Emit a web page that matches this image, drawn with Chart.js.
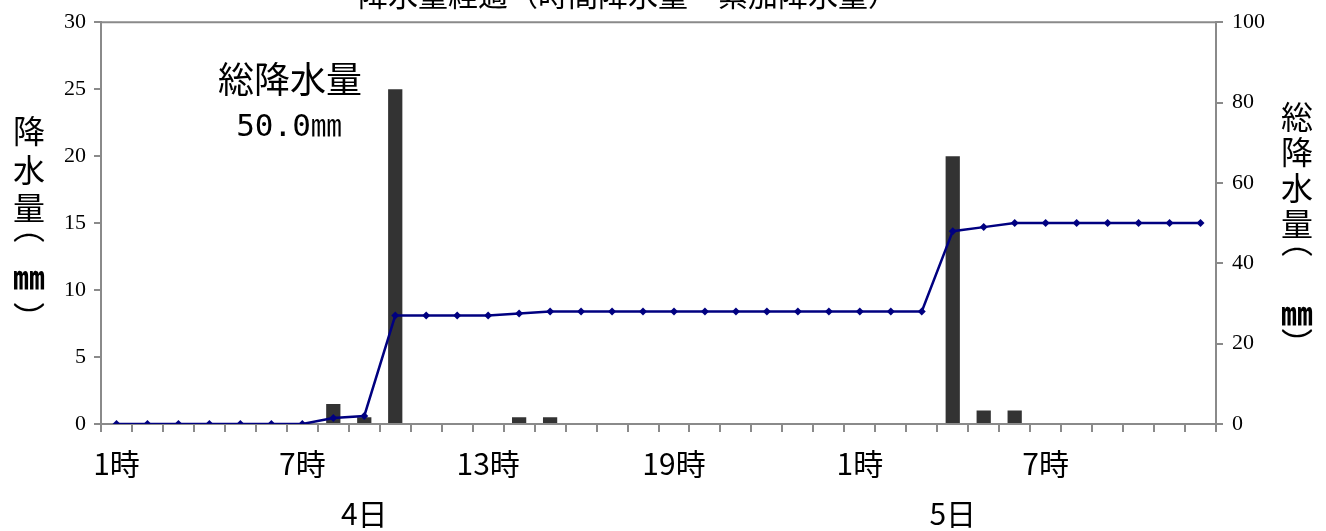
<!DOCTYPE html>
<html>
<head>
<meta charset="utf-8">
<script src="https://cdn.jsdelivr.net/npm/chart.js@4.4.1/dist/chart.umd.min.js"></script>
<style>
  html, body { margin: 0; padding: 0; background: #ffffff; }
  #wrap { position: relative; width: 1326px; height: 531px; overflow: hidden; }
  canvas { display: block; }
</style>
</head>
<body>
<div id="wrap"><canvas id="c" width="1326" height="531"></canvas></div>
<script>
// ---- data ----
const categories = [
  '1時','2時','3時','4時','5時','6時','7時','8時','9時','10時','11時','12時',
  '13時','14時','15時','16時','17時','18時','19時','20時','21時','22時','23時','24時',
  '1時','2時','3時','4時','5時','6時','7時','8時','9時','10時','11時','12時'
];
const hourlyRain = [
  0,0,0,0,0,0,0,1.5,0.5,25,0,0,
  0,0.5,0.5,0,0,0,0,0,0,0,0,0,
  0,0,0,20,1,1,0,0,0,0,0,0
];
const totalRain = [
  0,0,0,0,0,0,0,1.5,2,27,27,27,
  27,27.5,28,28,28,28,28,28,28,28,28,28,
  28,28,28,48,49,50,50,50,50,50,50,50
];
const labelledHourIdx = [0, 6, 12, 18, 24, 30];
const dayLabels = ['4日', '5日'];
const dayLabelIdx = [8, 27];
const leftTitle = ['降','水','量','︵','㎜','︶'];
const rightTitle = ['総','降','水','量','︵','㎜','︶'];
const chartTitle = '降水量経過（時間降水量・累加降水量）';
const noteLines = ['総降水量', '50.0㎜'];

const AXIS = '#8a8a8a';
const CJK = '"Noto Sans CJK JP", "Noto Sans", sans-serif';
const SERIF = '"Liberation Serif", "DejaVu Serif", serif';

function drawVertical(ctx, chars, x, ys) {
  chars.forEach((ch, i) => {
    if (ch === '㎜') ctx.font = 'bold 32px ' + CJK;
    else ctx.font = '32px ' + CJK;
    ctx.fillText(ch, x, ys[i]);
  });
}

const textPlugin = {
  id: 'texts',
  afterDraw(chart) {
    const ctx = chart.ctx;
    const ca = chart.chartArea;
    ctx.save();
    // top border of plot
    ctx.strokeStyle = AXIS;
    ctx.lineWidth = 2;
    ctx.beginPath();
    ctx.moveTo(ca.left - 1, ca.top);
    ctx.lineTo(ca.right + 1, ca.top);
    ctx.stroke();

    ctx.fillStyle = '#000';
    ctx.textAlign = 'center';
    // clipped title
    ctx.font = '30px ' + CJK;
    ctx.textBaseline = 'bottom';
    ctx.fillText(chartTitle, 628, 10);

    // note
    ctx.textBaseline = 'middle';
    ctx.font = '36px ' + CJK;
    ctx.fillText(noteLines[0], 290, 79);
    ctx.font = '31px "DejaVu Sans Mono", ' + CJK;
    ctx.fillText(noteLines[1], 289, 128);

    // vertical axis titles
    drawVertical(ctx, leftTitle, 29, [131, 170, 208, 227, 277, 318]);
    drawVertical(ctx, rightTitle, 1297, [117, 152, 188, 224, 241, 313, 344]);
    ctx.restore();
  }
};

function build() {
  const ctx = document.getElementById('c').getContext('2d');
  new Chart(ctx, {
    data: {
      labels: categories,
      datasets: [
        {
          type: 'line',
          label: '総降水量',
          data: totalRain,
          yAxisID: 'y1',
          borderColor: '#000080',
          backgroundColor: '#000080',
          borderWidth: 2.5,
          pointStyle: 'rectRot',
          pointRadius: 4,
          pointBorderWidth: 0,
          pointBackgroundColor: '#000080',
          tension: 0,
          order: 0
        },
        {
          type: 'bar',
          label: '降水量',
          data: hourlyRain,
          yAxisID: 'y',
          backgroundColor: '#333333',
          borderWidth: 0,
          barPercentage: 0.46,
          categoryPercentage: 1.0,
          order: 1
        }
      ]
    },
    options: {
      responsive: false,
      animation: false,
      devicePixelRatio: 1,
      layout: { padding: { top: 20, left: 0, right: 0, bottom: 0 } },
      plugins: {
        legend: { display: false },
        tooltip: { enabled: false },
        title: { display: false }
      },
      scales: {
        x: {
          type: 'category',
          offset: true,
          grid: {
            offset: true,
            drawOnChartArea: false,
            drawTicks: true,
            tickLength: 8,
            color: AXIS,
            lineWidth: 2
          },
          border: { display: true, color: AXIS, width: 2 },
          ticks: {
            autoSkip: false,
            maxRotation: 0,
            minRotation: 0,
            padding: 7,
            color: '#000',
            font: { family: CJK, size: 30, lineHeight: 1.66 },
            callback: function (v, i) {
              const h = labelledHourIdx.indexOf(i) >= 0 ? categories[i] : '';
              const d = dayLabelIdx.indexOf(i);
              const dl = d >= 0 ? dayLabels[d] : '';
              if (!h && !dl) return '';
              return [h, dl];
            }
          },
          afterFit: function (s) { s.height = 107; }
        },
        y: {
          position: 'left',
          min: 0,
          max: 30,
          ticks: {
            stepSize: 5,
            padding: 8,
            color: '#000',
            font: { family: SERIF, size: 22 }
          },
          grid: {
            drawOnChartArea: false,
            drawTicks: true,
            tickLength: 7,
            color: AXIS,
            lineWidth: 2
          },
          border: { display: true, color: AXIS, width: 2 },
          afterFit: function (s) { s.width = 101; }
        },
        y1: {
          position: 'right',
          min: 0,
          max: 100,
          ticks: {
            stepSize: 20,
            padding: 9,
            color: '#000',
            font: { family: SERIF, size: 22 }
          },
          grid: {
            drawOnChartArea: false,
            drawTicks: true,
            tickLength: 7,
            color: AXIS,
            lineWidth: 2
          },
          border: { display: true, color: AXIS, width: 2 },
          afterFit: function (s) { s.width = 110; }
        }
      }
    },
    plugins: [textPlugin]
  });
}

if (document.fonts && document.fonts.load) {
  Promise.all([
    document.fonts.load('30px "Noto Sans CJK JP"', '降水量時日'),
    document.fonts.load('22px "Liberation Serif"', '0123'),
    document.fonts.load('31px "DejaVu Sans Mono"', '50.0')
  ]).then(build, build);
} else {
  build();
}
</script>
</body>
</html>
